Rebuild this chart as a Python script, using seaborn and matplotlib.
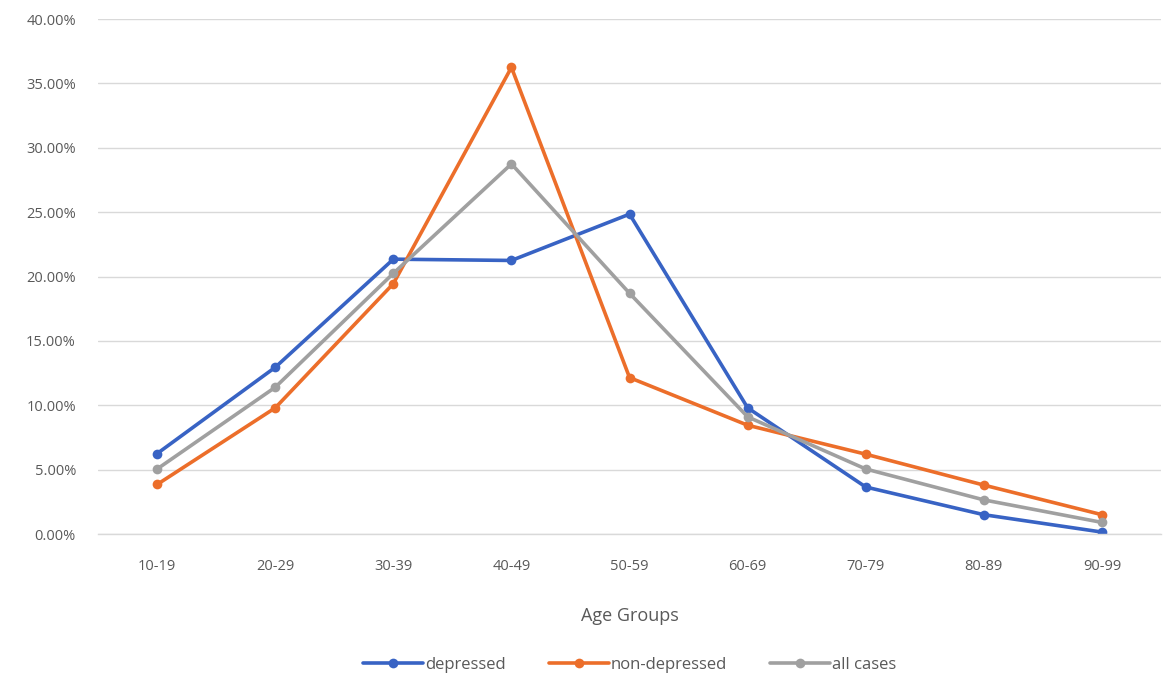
import matplotlib
matplotlib.use("Agg")
import matplotlib.pyplot as plt
import seaborn as sns
import pandas as pd
from matplotlib.ticker import FuncFormatter

age_groups = ["10-19", "20-29", "30-39", "40-49", "50-59", "60-69", "70-79", "80-89", "90-99"]
depressed = [6.25, 12.95, 21.35, 21.25, 24.85, 9.8, 3.65, 1.5, 0.15]
non_depressed = [3.85, 9.8, 19.45, 36.25, 12.15, 8.45, 6.2, 3.8, 1.5]
all_cases = [5.05, 11.4, 20.25, 28.75, 18.7, 9.1, 5.05, 2.65, 0.9]

series_names = ["depressed", "non-depressed", "all cases"]
colors = ["#3863C4", "#EC6E2A", "#A0A0A0"]

df = pd.DataFrame({
    "age": age_groups * 3,
    "value": depressed + non_depressed + all_cases,
    "series": [series_names[0]] * 9 + [series_names[1]] * 9 + [series_names[2]] * 9,
})
df["x"] = df["age"].map({a: i for i, a in enumerate(age_groups)})

sns.set_theme(style="white")
plt.rcParams["font.family"] = ["Open Sans", "DejaVu Sans"]

fig = plt.figure(figsize=(11.68, 6.82), dpi=100)
ax = fig.add_axes([0.084, 0.217, 0.91, 0.755])

sns.lineplot(data=df, x="x", y="value", hue="series", hue_order=series_names,
             palette=colors, marker="o", markersize=7, markeredgewidth=0,
             linewidth=2.6, ax=ax, legend=True, sort=False)

ax.set_xlim(-0.5, 8.5)
ax.set_ylim(0, 40)
ax.set_yticks([0, 5, 10, 15, 20, 25, 30, 35, 40])
ax.yaxis.set_major_formatter(FuncFormatter(lambda v, p: f"{v:.2f}%"))
ax.set_xticks(range(9))
ax.set_xticklabels(age_groups)
ax.grid(axis="y", color="#D9D9D9", linewidth=1.0)
ax.set_axisbelow(True)
for s in ["top", "right", "left"]:
    ax.spines[s].set_visible(False)
ax.spines["bottom"].set_color("#D9D9D9")
ax.spines["bottom"].set_linewidth(1.0)
ax.tick_params(axis="both", length=0, labelsize=10.5, colors="#595959")
ax.tick_params(axis="x", pad=18)
ax.tick_params(axis="y", pad=16)
ax.set_ylabel("")
ax.set_xlabel("Age Groups", fontsize=13, color="#595959", labelpad=24)

handles, labels = ax.get_legend_handles_labels()
leg = ax.legend(handles, labels, loc="center", bbox_to_anchor=(0.5, -0.254),
                ncol=3, frameon=False, fontsize=12, handlelength=3.6,
                handletextpad=0.1, columnspacing=2.6, labelcolor="#595959")

fig.savefig("out.png", dpi=100)
